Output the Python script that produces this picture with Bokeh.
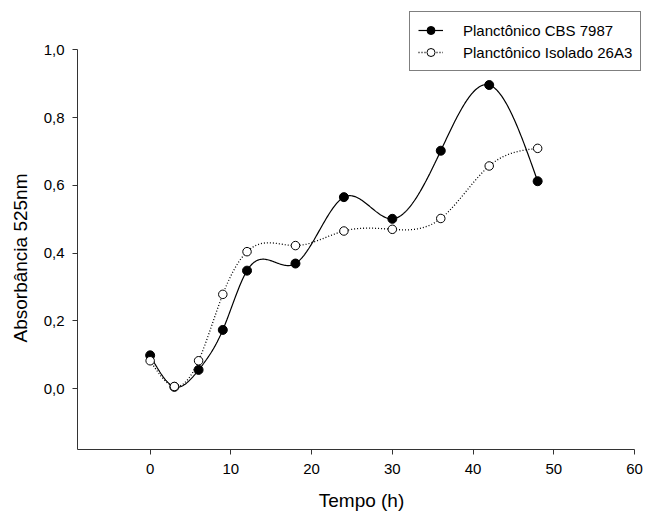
import numpy as np
from bokeh.plotting import figure
from bokeh.models import (Range1d, FixedTicker, CustomJSTickFormatter, Legend, LegendItem, Title)
from bokeh.embed import file_html
from bokeh.resources import INLINE

# ---- data ----
tempo = [0, 3, 6, 9, 12, 18, 24, 30, 36, 42, 48]
cbs_7987 = [0.098, 0.005, 0.055, 0.173, 0.348, 0.369, 0.565, 0.501, 0.702, 0.896, 0.612]
isolado_26a3 = [0.082, 0.006, 0.082, 0.278, 0.404, 0.422, 0.465, 0.470, 0.502, 0.657, 0.709]
x_ticks = [0, 10, 20, 30, 40, 50, 60]
y_ticks = [0.0, 0.2, 0.4, 0.6, 0.8, 1.0]
serie_labels = ["Planctônico CBS 7987", "Planctônico Isolado 26A3"]


def natural_spline(x, y, n=400):
    x = np.asarray(x, float)
    y = np.asarray(y, float)
    m = len(x)
    h = np.diff(x)
    A = np.zeros((m, m))
    b = np.zeros(m)
    A[0, 0] = 1.0
    A[-1, -1] = 1.0
    for i in range(1, m - 1):
        A[i, i - 1] = h[i - 1]
        A[i, i] = 2 * (h[i - 1] + h[i])
        A[i, i + 1] = h[i]
        b[i] = 6 * ((y[i + 1] - y[i]) / h[i] - (y[i] - y[i - 1]) / h[i - 1])
    M = np.linalg.solve(A, b)
    xs = np.linspace(x[0], x[-1], n)
    idx = np.clip(np.searchsorted(x, xs, side="right") - 1, 0, m - 2)
    x0, x1 = x[idx], x[idx + 1]
    hh = x1 - x0
    a = (x1 - xs) / hh
    bb = (xs - x0) / hh
    ys = (a * y[idx] + bb * y[idx + 1]
          + ((a ** 3 - a) * M[idx] + (bb ** 3 - bb) * M[idx + 1]) * hh ** 2 / 6)
    return xs, ys


FONT = "Liberation Sans"

# frame fills to the top/right edge so the legend is not clipped;
# axis lines are limited with bounds to the reference extent
p = figure(width=645, height=517, output_backend="svg", toolbar_location=None,
           x_range=Range1d(-9, 61.36), y_range=Range1d(-0.18, 1.1455),
           min_border_left=77, min_border_right=0, min_border_top=0,
           min_border_bottom=68)
p.outline_line_color = None
p.xgrid.visible = False
p.ygrid.visible = False
p.background_fill_color = "white"
p.border_fill_color = "white"

sx1, sy1 = natural_spline(tempo, cbs_7987)
sx2, sy2 = natural_spline(tempo, isolado_26a3)

l1 = p.line(sx1, sy1, line_color="black", line_width=1.2)
m1 = p.scatter(tempo, cbs_7987, size=9, fill_color="black", line_color="black")
l2 = p.line(sx2, sy2, line_color="black", line_width=1.3, line_dash="1 2")
m2 = p.scatter(tempo, isolado_26a3, size=8.5, fill_color="white",
               line_color="black", line_width=1)

for ax in (p.xaxis[0], p.yaxis[0]):
    ax.axis_line_color = "#333333"
    ax.axis_line_width = 1
    ax.major_tick_line_color = "#333333"
    ax.major_tick_out = 5
    ax.major_tick_in = 0
    ax.minor_tick_line_color = None
    ax.major_label_text_font = FONT
    ax.major_label_text_font_size = "15px"
    ax.major_label_text_color = "black"
    ax.axis_label_text_font = FONT
    ax.axis_label_text_font_size = "19px"
    ax.axis_label_text_font_style = "normal"
    ax.axis_label_text_color = "black"

p.xaxis.bounds = (-9, 60)
p.yaxis.bounds = (-0.18, 1.0)
p.xaxis.ticker = FixedTicker(ticks=x_ticks)
p.yaxis.ticker = FixedTicker(ticks=y_ticks)
p.yaxis.formatter = CustomJSTickFormatter(code="return tick.toFixed(1).replace('.', ',');")
p.xaxis.axis_label = "Tempo (h)"
p.xaxis.major_label_standoff = 9
p.yaxis.major_label_standoff = 8
p.xaxis.axis_label_standoff = 13

ytitle = Title(text="Absorbância 525nm", align="left", offset=107,
               vertical_align="top", standoff=16, text_font=FONT,
               text_font_size="19px", text_font_style="normal", text_color="black")
p.add_layout(ytitle, "left")

legend = Legend(items=[LegendItem(label=serie_labels[0], renderers=[l1, m1]),
                       LegendItem(label=serie_labels[1], renderers=[l2, m2])],
                location=(332, 378), padding=8, spacing=2, margin=0,
                glyph_width=25, glyph_height=20, label_height=20,
                label_standoff=20, border_line_color="black", border_line_width=1,
                background_fill_color="white", background_fill_alpha=1.0,
                label_text_font=FONT, label_text_font_size="15px",
                label_text_color="black")
p.add_layout(legend, "center")

open("out.html", "w").write(file_html(p, INLINE))
